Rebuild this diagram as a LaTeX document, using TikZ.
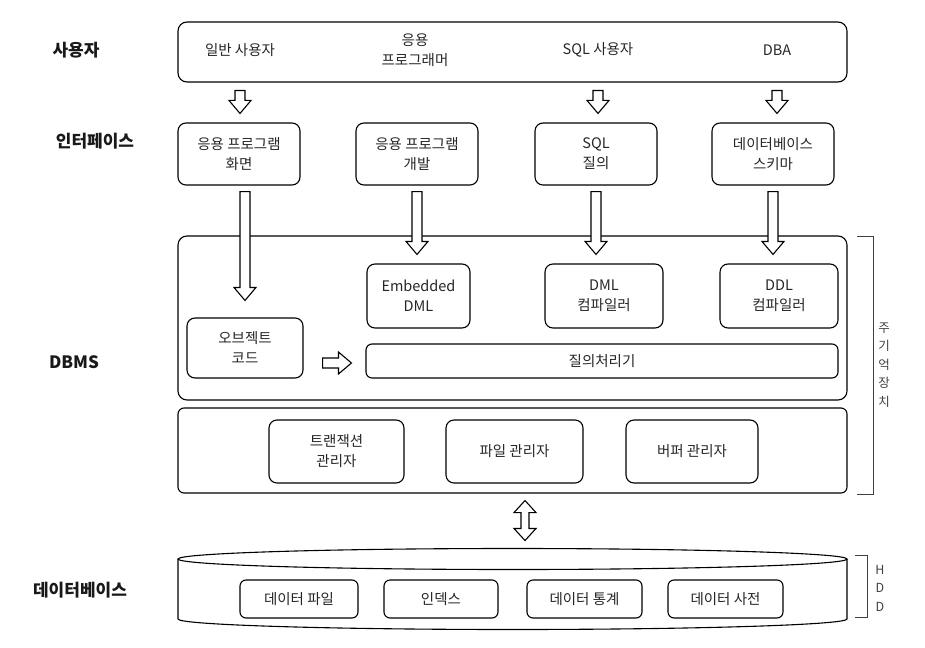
\documentclass[tikz,border=0pt]{standalone}
\usepackage{fontspec}
\setmainfont{Noto Sans CJK KR}
\usepackage{tikz}
\usetikzlibrary{calc}

\tikzset{
  box/.style={draw,line width=1.1pt,rounded corners=8pt,align=center,
    font=\fontsize{14.5}{20}\selectfont,text=black!85,inner sep=0pt},
  bigbox/.style={draw,line width=1.1pt,rounded corners=9pt,minimum width=669pt},
  rowlabel/.style={font=\fontsize{17}{20}\selectfont\bfseries,text=black!90},
  txt/.style={align=center,font=\fontsize{14.5}{20}\selectfont,text=black!85},
  hollow/.style={draw,line width=1.1pt,fill=white,line join=miter},
  side/.style={align=center,font=\fontsize{12.5}{18.5}\selectfont,text=black!75}
}

% hollow arrow, going down from #1 to #2 (x of #1 is used)
\newcommand{\vhollow}[2]{%
  \draw[hollow] let \p1=(#1), \p2=(#2) in
    (\x1-5pt,\y1) -- (\x1-5pt,\y2+13pt) -- (\x1-11pt,\y2+13pt) -- (\x1,\y2)
    -- (\x1+11pt,\y2+13pt) -- (\x1+5pt,\y2+13pt) -- (\x1+5pt,\y1) -- cycle;}
% hollow arrow, going right
\newcommand{\hhollow}[2]{%
  \draw[hollow] let \p1=(#1), \p2=(#2) in
    (\x1,\y1+5pt) -- (\x2-13pt,\y1+5pt) -- (\x2-13pt,\y1+11pt) -- (\x2,\y1)
    -- (\x2-13pt,\y1-11pt) -- (\x2-13pt,\y1-5pt) -- (\x1,\y1-5pt) -- cycle;}
% two headed one, up and down
\newcommand{\dhollow}[2]{%
  \draw[hollow] let \p1=(#1), \p2=(#2) in
    (\x1,\y1) -- (\x1+11pt,\y1-12pt) -- (\x1+4pt,\y1-12pt) -- (\x1+4pt,\y2+12pt)
    -- (\x1+11pt,\y2+12pt) -- (\x1,\y2) -- (\x1-11pt,\y2+12pt) -- (\x1-4pt,\y2+12pt)
    -- (\x1-4pt,\y1-12pt) -- (\x1-11pt,\y1-12pt) -- cycle;}

\begin{document}
\begin{tikzpicture}[x=1pt,y=-1pt]
  \useasboundingbox (0,0) rectangle (925,647);

  %%% row labels
  \node[rowlabel] (lusr) at (76,50) {사용자};
  \node[rowlabel] (lif) at (95,141) {인터페이스};
  \node[rowlabel] (ldbms) at (74,362) {DBMS};
  \node[rowlabel] (ldb) at (80,590) {데이터베이스};

  %%% users
  \node[bigbox,minimum height=60pt] (users) at (512.5,52) {};
  \node[txt] (u1) at (240,50) {일반 사용자};
  \node[txt] (u2) at (415,50) {응용\\프로그래머};
  \node[txt] (u3) at (598,50) {SQL 사용자};
  \node[txt] (u4) at (777,50) {DBA};

  %%% interfaces
  \node[box,minimum width=122pt,minimum height=62pt] (if1) at (239,154) {응용 프로그램\\화면};
  \node[box,minimum width=122pt,minimum height=62pt] (if2) at (417,154) {응용 프로그램\\개발};
  \node[box,minimum width=122pt,minimum height=62pt] (if3) at (596,154) {SQL\\질의};
  \node[box,minimum width=122pt,minimum height=62pt] (if4) at (773,154) {데이터베이스\\스키마};

  %% users -> interfaces
  \foreach \u/\i in {u1/if1,u3/if3,u4/if4}
    \vhollow{$(\u |- users.south)+(0,8)$}{$(\i.north)+(0,-9)$};

  %%% dbms
  \node[bigbox,minimum height=164pt] (dbms) at (512.5,318) {};
  \node[box,minimum width=103pt,minimum height=64pt] (emb) at (418.5,296) {Embedded\\DML};
  \node[box,minimum width=118pt,minimum height=64pt] (dml) at (604,296) {DML\\컴파일러};
  \node[box,minimum width=118pt,minimum height=64pt] (ddl) at (779,296) {DDL\\컴파일러};
  \node[box,minimum width=116pt,minimum height=60pt] (obj) at (245,348) {오브젝트\\코드};
  \node[box,minimum width=472pt,minimum height=34pt,rounded corners=6pt] (qp) at (602,361) {질의처리기};

  %% interfaces -> dbms
  \vhollow{$(obj |- if1.south)+(0,6)$}{$(obj.north)+(0,-17)$};
  \vhollow{$(if2.south)+(0,6)$}{$(emb.north)+(0,-9)$};
  \vhollow{$(if3.south)+(0,6)$}{$(dml.north)+(0,-9)$};
  \vhollow{$(if4.south)+(0,6)$}{$(ddl.north)+(0,-9)$};
  \hhollow{$(obj.east |- qp)+(19,2)$}{$(qp.west)+(-14,2)$};

  %%% managers
  \node[bigbox,minimum height=85pt,rounded corners=6pt] (mgr) at (512.5,450.5) {};
  \node[box,minimum width=135pt,minimum height=63pt] (trx) at (336.5,451.5) {트랜잭션\\관리자};
  \node[box,minimum width=137pt,minimum height=63pt] (file) at (514.5,451.5) {파일 관리자};
  \node[box,minimum width=132pt,minimum height=63pt] (buf) at (692,451.5) {버퍼 관리자};

  %%% database (the cylinder)
  \draw[line width=1.1pt,fill=white] (178,559) -- (178,619) arc[start angle=180,end angle=0,x radius=334.5,y radius=10.5] -- (847,559);
  \draw[line width=1.1pt] (512.5,559) ellipse[x radius=334.5,y radius=10.5];
  \coordinate (dbtop) at (525,548.5);
  \foreach \n/\x/\w/\t in {df/299/118/데이터 파일,idx/441/114/인덱스,
                            st/584.5/115/데이터 통계,dic/725.5/115/데이터 사전}
    \node[box,minimum width=\w pt,minimum height=38pt,rounded corners=6pt] (\n) at (\x,599) {\t};

  %% memory <-> disk
  \dhollow{$(dbtop |- mgr.south)+(0,7)$}{$(dbtop)+(0,-8)$};

  %%% brackets on the right
  \draw[line width=0.9pt,black!75] (857,236) -- (873,236) -- (873,494) -- (857,494);
  \node[side] (mem) at (884,365) {주\\기\\억\\장\\치};
  \draw[line width=0.9pt,black!75] (855,555) -- (867,555) -- (867,617) -- (855,617);
  \node[side] (hdd) at (880,588) {H\\D\\D};
\end{tikzpicture}
\end{document}
